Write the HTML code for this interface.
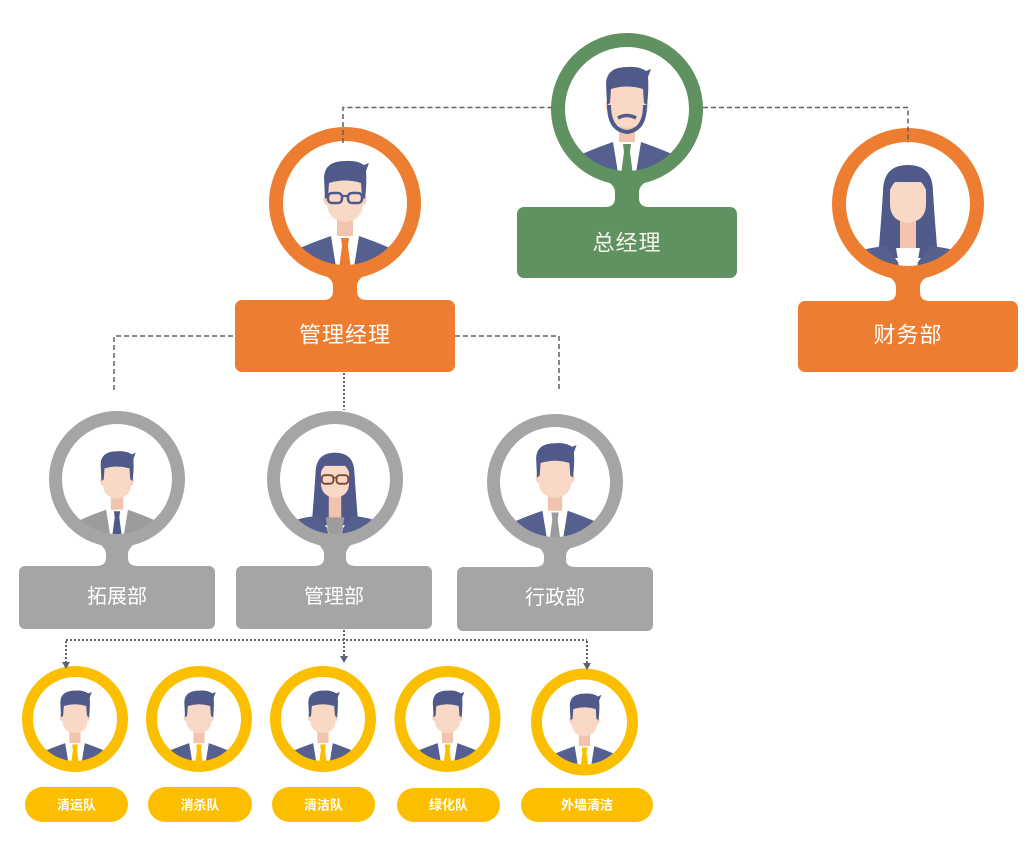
<!DOCTYPE html>
<html><head><meta charset="utf-8"><style>
html,body{margin:0;padding:0;background:#fff;}
svg{display:block;}
text{font-family:"Liberation Sans","Noto Sans CJK SC",sans-serif;}
</style></head><body>
<svg width="1024" height="847" viewBox="0 0 1024 847" xmlns="http://www.w3.org/2000/svg">
<defs>
<clipPath id="c62"><circle cx="0" cy="0" r="62.5"/></clipPath>
<clipPath id="c55"><circle cx="0" cy="0" r="55.5"/></clipPath>
<clipPath id="c42"><circle cx="0" cy="0" r="42.5"/></clipPath>
<g id="man">
  <rect x="-8" y="6" width="16" height="32" fill="#f2c4ad"/>
  <path fill="#fff" d="M-14 33 L14 33 L6 90 L-6 90 Z"/>
  <path style="fill:var(--suit)" d="M-75 95 L-64 56 Q-54 47 -14 33 L-4 95 Z"/>
  <path style="fill:var(--suit)" d="M75 95 L64 56 Q54 47 14 33 L4 95 Z"/>
  <path style="fill:var(--tie)" d="M-4 35 L4 35 L3 43 L-3 43 Z M-3 43 L3 43 L6 66 L0 76 L-6 66 Z"/>
  <ellipse cx="-18" cy="-4" rx="3.5" ry="6" fill="#f7d0bc"/>
  <ellipse cx="18" cy="-4" rx="3.5" ry="6" fill="#f7d0bc"/>
  <path fill="#fad8c6" d="M-18 -24 L18 -24 L18 0 Q18 17 0 19 Q-18 17 -18 0 Z"/>
  <path fill="#4f5a8a" d="M-20 -4 L-21 -26 Q-20 -42 0 -42 Q12 -43 19 -38 L24 -40 L21 -32 Q22 -20 20 -4 L17 -6 L16 -20 Q0 -25 -16 -20 L-17 -6 Z"/>
</g>
<g id="woman">
  <path fill="#4f5a8a" d="M-30 54 Q-27 20 -25 -12 Q-25 -39 0 -39 Q25 -39 25 -12 Q27 20 30 54 Z"/>
  <rect x="-8" y="8" width="16" height="50" fill="#f2c4ad"/>
  <path style="fill:var(--top)" d="M-12 44 L12 44 L4 90 L-4 90 Z"/>
  <path fill="#56608f" d="M-80 95 L-62 54 Q-52 45 -22 42 L-10 58 L-4 95 Z"/>
  <path fill="#56608f" d="M80 95 L62 54 Q52 45 22 42 L10 58 L4 95 Z"/>
  <path fill="#fad8c6" d="M-18 -22 L18 -22 L18 0 Q18 17 0 19 Q-18 17 -18 0 Z"/>
  <path fill="#4f5a8a" d="M-21 -2 Q-23 -35 0 -36 Q23 -35 21 -2 L18 -14 Q13 -26 2 -28 L0 -26 L-2 -28 Q-13 -26 -18 -14 Z"/>
</g>
</defs>

<!-- ========== GREEN (总经理) ========== -->
<g transform="translate(627,109)">
  <circle r="63" fill="#fff"/>
  <g clip-path="url(#c62)">
    <use href="#man" style="--suit:#56608f;--tie:#5f9260"/>
    <path d="M-18 -4 Q-18 21 0 23 Q18 21 18 -4" fill="none" stroke="#4f5a8a" stroke-width="4"/>
    <path d="M-9 9 Q0 4 9 9" fill="none" stroke="#4f5a8a" stroke-width="3.5"/>
  </g>
  <circle r="69" fill="none" stroke="#5f9260" stroke-width="14"/>
</g>
<path fill="#5f9260" d="M605 207 Q615 207 615 198 L615 192 Q615 186 607 181 L647 181 Q639 186 639 192 L639 198 Q639 207 649 207 Z"/>
<rect x="517" y="207" width="220" height="71" rx="7" fill="#5f9260"/>
<text x="627" y="243" font-size="22" fill="#f4f4ea" text-anchor="middle" dominant-baseline="central" letter-spacing="1">总经理</text>

<!-- ========== ORANGE LEFT (管理经理) ========== -->
<g transform="translate(345,203)">
  <circle r="63" fill="#fff"/>
  <g clip-path="url(#c62)">
    <use href="#man" style="--suit:#56608f;--tie:#ed7d31"/>
    <rect x="-17" y="-10" width="14" height="10" rx="4" fill="none" stroke="#4f5a8a" stroke-width="2.5"/>
    <rect x="3" y="-10" width="14" height="10" rx="4" fill="none" stroke="#4f5a8a" stroke-width="2.5"/>
    <line x1="-3" y1="-7" x2="3" y2="-7" stroke="#4f5a8a" stroke-width="2"/>
  </g>
  <circle r="69" fill="none" stroke="#ed7d31" stroke-width="14"/>
</g>
<path fill="#ed7d31" d="M323 300 Q333 300 333 291 L333 286 Q333 280 325 275 L365 275 Q357 280 357 286 L357 291 Q357 300 367 300 Z"/>
<rect x="235" y="300" width="220" height="72" rx="7" fill="#ed7d31"/>
<text x="345" y="335" font-size="22" fill="#fff" text-anchor="middle" dominant-baseline="central" letter-spacing="1">管理经理</text>

<!-- ========== ORANGE RIGHT (财务部) ========== -->
<g transform="translate(908,204)">
  <circle r="63" fill="#fff"/>
  <g clip-path="url(#c62)">
    <use href="#woman" style="--top:#fff"/>
  </g>
  <circle r="69" fill="none" stroke="#ed7d31" stroke-width="14"/>
</g>
<path fill="#ed7d31" d="M886 301 Q896 301 896 292 L896 287 Q896 281 888 276 L928 276 Q920 281 920 287 L920 292 Q920 301 930 301 Z"/>
<rect x="798" y="301" width="220" height="71" rx="7" fill="#ed7d31"/>
<text x="908" y="335" font-size="22" fill="#fff" text-anchor="middle" dominant-baseline="central" letter-spacing="1">财务部</text>

<!-- ========== GRAY 1 (拓展部) ========== -->
<g transform="translate(117,479)">
  <circle r="56" fill="#fff"/>
  <g clip-path="url(#c55)">
    <g transform="translate(0,5) scale(0.78)">
      <use href="#man" style="--suit:#9c9c9c;--tie:#4f5a8a"/>
    </g>
  </g>
  <circle r="61.5" fill="none" stroke="#a5a5a5" stroke-width="13"/>
</g>
<path fill="#a5a5a5" d="M96 566 Q106 566 106 558 L106 554 Q106 549 99 543 L135 543 Q128 549 128 554 L128 558 Q128 566 138 566 Z"/>
<rect x="19" y="566" width="196" height="63" rx="6" fill="#a5a5a5"/>
<text x="117" y="597" font-size="20" fill="#fff" text-anchor="middle" dominant-baseline="central">拓展部</text>

<!-- ========== GRAY 2 (管理部) ========== -->
<g transform="translate(335,479)">
  <circle r="56" fill="#fff"/>
  <g clip-path="url(#c55)">
    <g transform="translate(0,4) scale(0.78)">
      <use href="#woman" style="--top:#9c9c9c"/>
      <rect x="-17" y="-10" width="15" height="11" rx="4" fill="none" stroke="#7a4a3a" stroke-width="2.5"/>
      <rect x="2" y="-10" width="15" height="11" rx="4" fill="none" stroke="#7a4a3a" stroke-width="2.5"/>
      <line x1="-2" y1="-7" x2="2" y2="-7" stroke="#7a4a3a" stroke-width="2"/>
    </g>
  </g>
  <circle r="61.5" fill="none" stroke="#a5a5a5" stroke-width="13"/>
</g>
<path fill="#a5a5a5" d="M314 566 Q324 566 324 558 L324 554 Q324 549 317 543 L353 543 Q346 549 346 554 L346 558 Q346 566 356 566 Z"/>
<rect x="236" y="566" width="196" height="63" rx="6" fill="#a5a5a5"/>
<text x="334" y="597" font-size="20" fill="#fff" text-anchor="middle" dominant-baseline="central">管理部</text>

<!-- ========== GRAY 3 (行政部) ========== -->
<g transform="translate(555,482)">
  <circle r="56" fill="#fff"/>
  <g clip-path="url(#c55)">
    <g transform="translate(0,-1) scale(0.9)">
      <use href="#man" style="--suit:#56608f;--tie:#9c9c9c"/>
    </g>
  </g>
  <circle r="61.5" fill="none" stroke="#a5a5a5" stroke-width="13"/>
</g>
<path fill="#a5a5a5" d="M534 567 Q544 567 544 560 L544 556 Q544 551 537 546 L573 546 Q566 551 566 556 L566 560 Q566 567 576 567 Z"/>
<rect x="457" y="567" width="196" height="64" rx="6" fill="#a5a5a5"/>
<text x="555" y="598" font-size="20" fill="#fff" text-anchor="middle" dominant-baseline="central">行政部</text>

<!-- ========== YELLOW ========== -->
<g transform="translate(75,719)">
  <circle r="43" fill="#fff"/>
  <g clip-path="url(#c42)"><g transform="translate(0,1) scale(0.7)"><use href="#man" style="--suit:#56608f;--tie:#fcbf00"/></g></g>
  <circle r="47.5" fill="none" stroke="#fcbf00" stroke-width="11"/>
</g>
<g transform="translate(199,719)">
  <circle r="43" fill="#fff"/>
  <g clip-path="url(#c42)"><g transform="translate(0,1) scale(0.7)"><use href="#man" style="--suit:#56608f;--tie:#fcbf00"/></g></g>
  <circle r="47.5" fill="none" stroke="#fcbf00" stroke-width="11"/>
</g>
<g transform="translate(323,719)">
  <circle r="43" fill="#fff"/>
  <g clip-path="url(#c42)"><g transform="translate(0,1) scale(0.7)"><use href="#man" style="--suit:#56608f;--tie:#fcbf00"/></g></g>
  <circle r="47.5" fill="none" stroke="#fcbf00" stroke-width="11"/>
</g>
<g transform="translate(447.5,719)">
  <circle r="43" fill="#fff"/>
  <g clip-path="url(#c42)"><g transform="translate(0,1) scale(0.7)"><use href="#man" style="--suit:#56608f;--tie:#fcbf00"/></g></g>
  <circle r="47.5" fill="none" stroke="#fcbf00" stroke-width="11"/>
</g>
<g transform="translate(584.5,722)">
  <circle r="43" fill="#fff"/>
  <g clip-path="url(#c42)"><g transform="translate(0,1) scale(0.7)"><use href="#man" style="--suit:#56608f;--tie:#fcbf00"/></g></g>
  <circle r="48" fill="none" stroke="#fcbf00" stroke-width="11"/>
</g>

<rect x="25" y="787" width="103" height="35" rx="17.5" fill="#fcbf00"/>
<rect x="148" y="787" width="104" height="35" rx="17.5" fill="#fcbf00"/>
<rect x="272" y="787" width="103" height="35" rx="17.5" fill="#fcbf00"/>
<rect x="397" y="788" width="103" height="34" rx="17" fill="#fcbf00"/>
<rect x="521" y="788" width="132" height="34" rx="17" fill="#fcbf00"/>
<g font-size="13" font-weight="bold" fill="#fff" text-anchor="middle">
  <text x="76.5" y="805" dominant-baseline="central">清运队</text>
  <text x="200" y="805" dominant-baseline="central">消杀队</text>
  <text x="323.5" y="805" dominant-baseline="central">清洁队</text>
  <text x="448.5" y="805" dominant-baseline="central">绿化队</text>
  <text x="587" y="805" dominant-baseline="central">外墙清洁</text>
</g>

<!-- ========== CONNECTORS ========== -->
<g fill="none" stroke="#5b6270" stroke-width="1.5" stroke-dasharray="5 3">
  <path d="M343 143 L343 107.5 L552 107.5"/>
  <path d="M703 107.5 L908 107.5 L908 143"/>
  <path d="M114 390 L114 336 L235 336"/>
  <path d="M455 336 L559 336 L559 392"/>
</g>
<g fill="none" stroke="#5b6270" stroke-width="2" stroke-dasharray="2 2">
  <path d="M344 373 L344 410"/>
  <path d="M344 630 L344 657"/>
  <path d="M66 640 L587 640"/>
  <path d="M66 641 L66 663"/>
  <path d="M587 641 L587 664"/>
</g>
<g fill="#5b6270">
  <polygon points="62,662 70,662 66,669"/>
  <polygon points="340,656 348,656 344,663"/>
  <polygon points="583,663 591,663 587,670"/>
</g>
</svg>
</body></html>
